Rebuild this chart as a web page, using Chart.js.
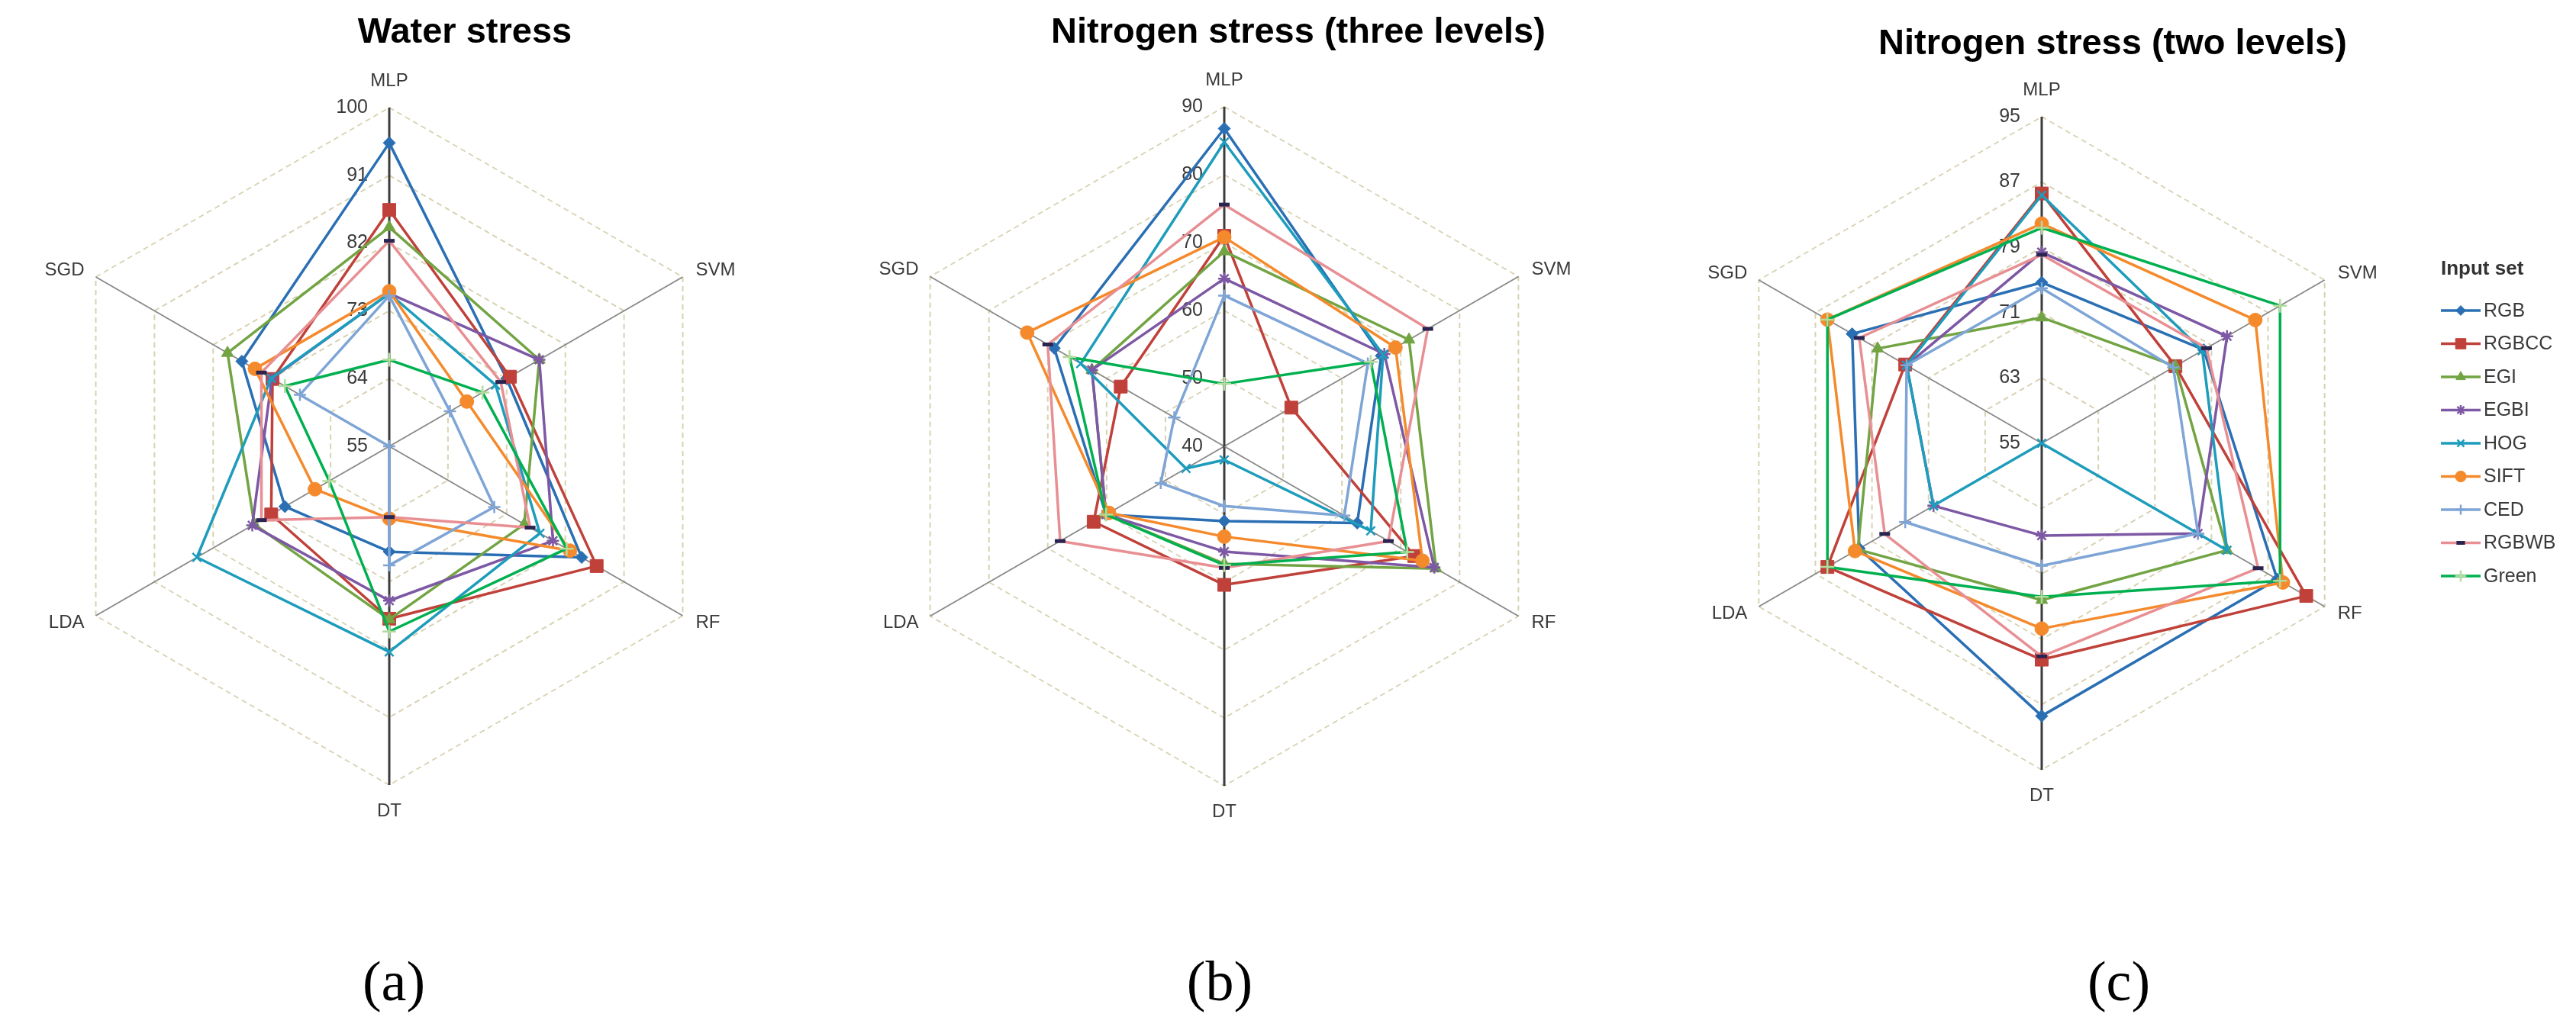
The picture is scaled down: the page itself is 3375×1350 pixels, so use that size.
<!DOCTYPE html>
<html>
<head>
<meta charset="utf-8">
<script src="https://cdn.jsdelivr.net/npm/chart.js@4.4.1/dist/chart.umd.min.js"></script>
<style>
html, body { margin: 0; padding: 0; background: #fff; }
#wrap { position: relative; width: 3375px; height: 1350px; overflow: hidden; background: #fff; }
#wrap canvas { position: absolute; left: 0; top: 0; }
</style>
</head>
<body>
<div id="wrap">
  <canvas id="water" width="3375" height="1350"></canvas>
  <canvas id="nitro3" width="3375" height="1350"></canvas>
  <canvas id="nitro2" width="3375" height="1350"></canvas>
</div>
<script>
// axes go clockwise from the top
var axisNames = ['MLP', 'SVM', 'RF', 'DT', 'LDA', 'SGD'];
var inputSets = ['RGB', 'RGBCC', 'EGI', 'EGBI', 'HOG', 'SIFT', 'CED', 'RGBWB', 'Green'];

var panelTitles = ['Water stress', 'Nitrogen stress (three levels)', 'Nitrogen stress (two levels)'];
var panelTags = ['(a)', '(b)', '(c)'];

var waterTicks = [55, 64, 73, 82, 91, 100];
var nitro3Ticks = [40, 50, 60, 70, 80, 90];
var nitro2Ticks = [55, 63, 71, 79, 87, 95];

// rows follow inputSets, columns follow axisNames
var waterValues = [
    [95.3, 73.0, 84.5, 69.0, 71.0, 77.6],
    [86.4, 73.5, 86.8, 77.9, 73.1, 72.9],
    [84.1, 78.0, 75.7, 78.0, 75.7, 79.8],
    [75.3, 78.0, 80.1, 75.5, 76.0, 73.0],
    [75.3, 71.3, 78.1, 82.3, 84.5, 73.1],
    [75.6, 66.9, 82.7, 64.6, 66.4, 75.6],
    [75.0, 64.3, 71.1, 70.8, 55.0, 68.7],
    [82.3, 72.1, 76.6, 64.4, 74.6, 74.6],
    [66.5, 69.3, 82.2, 79.6, 64.2, 71.0]
];

var nitro3Values = [
    [86.8, 66.7, 62.6, 51.0, 60.1, 68.9],
    [71.0, 51.4, 72.3, 60.4, 62.2, 57.6],
    [68.7, 71.4, 76.0, 57.3, 60.1, 62.5],
    [64.7, 67.2, 75.7, 55.5, 60.1, 62.5],
    [84.8, 67.0, 64.9, 42.0, 46.5, 64.4],
    [70.8, 69.1, 73.7, 53.3, 59.6, 73.5],
    [62.2, 64.4, 60.4, 48.8, 50.8, 48.5],
    [75.6, 74.6, 67.9, 57.9, 67.9, 70.0],
    [49.2, 64.9, 71.1, 57.5, 60.1, 66.3]
];

var nitro2Values = [
    [74.7, 77.9, 88.3, 88.4, 80.8, 81.8],
    [85.6, 73.9, 92.4, 81.5, 85.3, 74.3],
    [70.4, 73.9, 81.2, 74.2, 81.0, 78.2],
    [78.4, 81.2, 77.1, 66.3, 70.3, 74.1],
    [85.4, 77.7, 81.2, 55.0, 70.3, 74.1],
    [81.9, 85.2, 89.1, 77.7, 81.4, 85.3],
    [74.0, 73.6, 77.1, 70.0, 74.3, 74.1],
    [78.1, 78.3, 85.6, 81.1, 77.2, 80.8],
    [81.4, 88.7, 88.7, 73.8, 85.3, 85.3]
];

// styles
var lineColors = ['#2a6fb4', '#c0413a', '#72a443', '#7d58a4', '#1e9cbc', '#f58a2c', '#7ea5d6', '#e88f93', '#00b050'];
var markerColors = ['#2a6fb4', '#c0413a', '#72a443', '#7d58a4', '#1e9cbc', '#f58a2c', '#7ea5d6', '#2a2450', '#b4dc9c'];
var markerStyles = ['rectRot', 'rect', 'triangle', 'star', 'crossRot', 'circle', 'cross', 'line', 'cross'];
var markerSizes = [8, 12, 9, 8, 8, 9, 8, 7, 9];
var markerBorders = [1, 1, 1, 2.5, 2.5, 1, 2.5, 5, 2.5];

var FONT = '"Liberation Sans", Arial, sans-serif';

// panel geometry on the page
var panels = [
    {id: 'water', values: waterValues, ticks: waterTicks, cx: 510, cy: 585, r: 444, tx: 609, ty: 56, gx: 516, gy: 1292, legend: false},
    {id: 'nitro3', values: nitro3Values, ticks: nitro3Ticks, cx: 1604, cy: 585, r: 445, tx: 1701, ty: 56, gx: 1598, gy: 1292, legend: false},
    {id: 'nitro2', values: nitro2Values, ticks: nitro2Ticks, cx: 2675, cy: 581, r: 428, tx: 2768, ty: 71, gx: 2776, gy: 1292, legend: true}
];

const panelText = {
    id: 'panelText',
    beforeDatasetsDraw: (chart) => {
        // value labels along the MLP axis
        const s = chart.scales.r;
        const ctx = chart.ctx;
        ctx.save();
        ctx.font = '25px ' + FONT;
        ctx.fillStyle = '#3a3a3a';
        ctx.textAlign = 'right';
        ctx.textBaseline = 'middle';
        s.ticks.forEach(function(t) {
            var p = s.getPointPositionForValue(0, t.value);
            ctx.fillText(String(t.value), p.x - 28, p.y);
        });
        ctx.restore();
    },
    afterDraw: (chart, args, o) => {
        const s = chart.scales.r;
        const ctx = chart.ctx;
        ctx.save();
        // axis names
        ctx.font = '24px ' + FONT;
        ctx.fillStyle = '#3a3a3a';
        ctx.textBaseline = 'middle';
        var offs = [[0, -35, 'center'], [17, -9, 'left'], [17, 9, 'left'], [0, 34, 'center'], [-15, 9, 'right'], [-15, -9, 'right']];
        for (var i = 0; i < axisNames.length; i++) {
            var p = s.getPointPosition(i, s.drawingArea);
            ctx.textAlign = offs[i][2];
            ctx.fillText(axisNames[i], p.x + offs[i][0], p.y + offs[i][1]);
        }
        // title
        ctx.font = 'bold 47px ' + FONT;
        ctx.fillStyle = '#000';
        ctx.textAlign = 'center';
        ctx.textBaseline = 'alphabetic';
        ctx.fillText(o.title, o.tx, o.ty);
        // panel tag
        ctx.font = '74px "Liberation Serif", "DejaVu Serif", serif';
        ctx.textBaseline = 'middle';
        ctx.fillText(o.tag, o.gx, o.gy);

        if (o.legend) {
            var lx = 3198, ly = 353;
            ctx.textAlign = 'left';
            ctx.font = 'bold 26px ' + FONT;
            ctx.fillStyle = '#333';
            ctx.fillText('Input set', lx, ly);
            ctx.font = '25px ' + FONT;
            chart.data.datasets.forEach(function(ds, k) {
                var y = ly + 54 + k * 43.5;
                ctx.strokeStyle = ds.borderColor;
                ctx.lineWidth = 3.5;
                ctx.setLineDash([]);
                ctx.beginPath();
                ctx.moveTo(lx, y);
                ctx.lineTo(lx + 52, y);
                ctx.stroke();
                ctx.fillStyle = ds.pointBackgroundColor;
                ctx.strokeStyle = ds.pointBorderColor;
                ctx.lineWidth = ds.pointBorderWidth;
                Chart.helpers.drawPoint(ctx, {pointStyle: ds.pointStyle, rotation: 0, radius: ds.pointRadius * 0.8, borderWidth: ds.pointBorderWidth}, lx + 26, y);
                ctx.fillStyle = '#3a3a3a';
                ctx.fillText(ds.label, lx + 56, y + 1);
            });
        }
        ctx.restore();
    }
};

function makeChart(p, idx) {
    var ctx = document.getElementById(p.id).getContext('2d');
    var datasets = inputSets.map(function(name, i) {
        return {
            label: name,
            data: p.values[i],
            borderColor: lineColors[i],
            borderWidth: 3.5,
            borderJoinStyle: 'round',
            fill: false,
            pointStyle: markerStyles[i],
            pointRadius: markerSizes[i],
            pointBackgroundColor: markerColors[i],
            pointBorderColor: markerColors[i],
            pointBorderWidth: markerBorders[i],
            order: inputSets.length - i
        };
    });
    return new Chart(ctx, {
        type: 'radar',
        data: {labels: axisNames, datasets: datasets},
        options: {
            responsive: false,
            devicePixelRatio: 1,
            animation: false,
            elements: {line: {tension: 0}},
            scales: {
                r: {
                    min: p.ticks[0],
                    max: p.ticks[p.ticks.length - 1],
                    ticks: {display: false, stepSize: p.ticks[1] - p.ticks[0]},
                    pointLabels: {display: false},
                    grid: {color: '#d8d2b2', lineWidth: 2},
                    border: {dash: [7, 5]},
                    angleLines: {
                        color: (c) => (c.index % 3 === 0 ? '#3c3c3c' : '#8a8a8a'),
                        lineWidth: (c) => (c.index % 3 === 0 ? 3 : 2)
                    },
                    afterFit: function(s) {
                        s.xCenter = p.cx;
                        s.yCenter = p.cy;
                        s.drawingArea = p.r;
                    }
                }
            },
            plugins: {
                legend: {display: false},
                tooltip: {enabled: false},
                panelText: {title: panelTitles[idx], tx: p.tx, ty: p.ty, tag: panelTags[idx], gx: p.gx, gy: p.gy, legend: p.legend}
            }
        },
        plugins: [panelText]
    });
}

panels.forEach(makeChart);
</script>
</body>
</html>
